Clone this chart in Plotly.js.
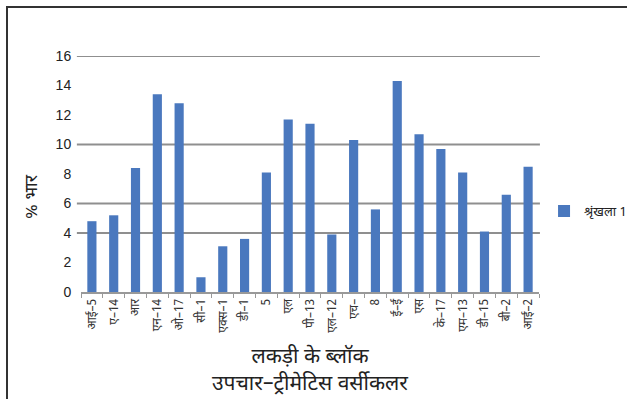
<!DOCTYPE html>
<html><head><meta charset="utf-8">
<script src="https://cdn.plot.ly/plotly-3.0.1.min.js"></script>
<style>
html,body{margin:0;padding:0;background:#fff;overflow:hidden}
#chart{width:627px;height:399px}
#frame{position:absolute;left:6px;top:6px;width:700px;height:500px;border-left:2px solid #333;border-top:2px solid #333;pointer-events:none}
</style></head>
<body>
<div id="chart"></div>
<div id="frame"></div>
<script>
const categories = ['आई–5','ए–14','आर','एन–14','ओ–17','सी–1','एक्स–1','डी–1','5','एल','पी–13','एल–12','एच–','8','ई–ई','एस','के–17','एम–13','डी–15','बी–2','आई–2'];
const values = [4.8, 5.2, 8.4, 13.4, 12.8, 1.0, 3.1, 3.6, 8.1, 11.7, 11.4, 3.9, 10.3, 5.6, 14.3, 10.7, 9.7, 8.1, 4.1, 6.6, 8.5];
const seriesName = 'श्रृंखला 1';
const gridValues = [4, 6, 10, 16];
const yTicks = [0, 2, 4, 6, 8, 10, 12, 14, 16];

const FONT = '"Noto Sans Devanagari", "Lohit Devanagari", "Mangal", Arial, "Liberation Sans", sans-serif';

const shapes = gridValues.map(v => ({
  type:'line', xref:'paper', yref:'y', x0:-0.009, x1:1.002, y0:v, y1:v,
  line:{color:'#8f8f8f', width:2}, layer:'below'
}));

Plotly.newPlot('chart', [{
  type:'bar', x:categories, y:values, name:seriesName,
  marker:{color:'#4a78be'}, showlegend:true
}], {
  width:627, height:399,
  margin:{l:81, r:88, t:56, b:107, autoexpand:false},
  paper_bgcolor:'#fff', plot_bgcolor:'#fff',
  bargap:0.58,
  font:{family:FONT, color:'#222'},
  xaxis:{
    type:'category', tickangle:-90, tickfont:{size:12, color:'#333'},
    showline:true, linecolor:'#999', linewidth:2,
    ticks:'outside', tickson:'boundaries', ticklen:4, tickcolor:'#999',
    showgrid:false, zeroline:false, fixedrange:true, automargin:false,
    title:{text:'लकड़ी के ब्लॉक<br>उपचार–ट्रीमेटिस वर्सीकलर', font:{size:21, color:'#222'}, standoff:27}
  },
  yaxis:{
    range:[0,16], tickvals:yTicks, tickfont:{size:14, color:'#222', family:'Arial, "Liberation Sans", sans-serif'},
    showgrid:false, zeroline:false, showline:false, automargin:false,
    ticks:'outside', ticklen:6, tickcolor:'rgba(0,0,0,0)'
  },
  shapes:shapes,
  annotations:[{
    text:'% भार', textangle:-90, xref:'paper', yref:'y', x:-0.107, y:6.5,
    xanchor:'center', yanchor:'middle', showarrow:false, font:{size:18, color:'#222'}
  }],
  legend:{x:1.011, xanchor:'left', y:0.343, yanchor:'middle', font:{size:13, color:'#222'}, bgcolor:'rgba(0,0,0,0)'}
}, {displayModeBar:false, staticPlot:true});
</script>
</body></html>
